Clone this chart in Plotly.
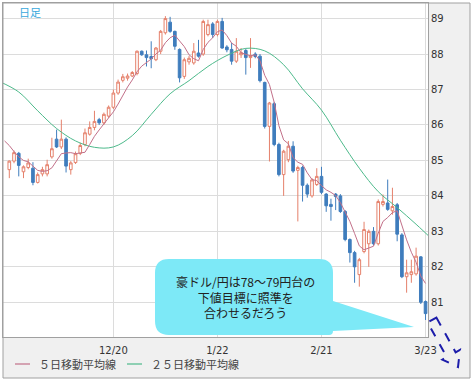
import plotly.graph_objects as go

# ---------------- data ----------------
idx = list(range(89))
tick_idx = [22, 44, 66, 88]
tick_text = ["12/20", "1/22", "2/21", "3/23"]
y_ticks = [81, 82, 83, 84, 85, 86, 87, 88, 89]

opens = [84.74, 84.98, 85.20, 84.68, 84.80, 84.78, 84.38, 84.62, 84.62, 85.10,
         85.60, 85.38, 85.60, 84.74, 84.94, 85.20, 85.45, 85.74, 85.93, 86.15,
         86.06, 86.25, 86.50, 86.90, 87.26, 87.32, 87.38, 87.45, 88.08, 87.98,
         87.93, 87.84, 88.08, 88.60, 88.90, 88.64, 88.13, 87.37, 87.78, 87.75,
         88.03, 88.00, 88.55, 88.85, 88.55, 88.92, 88.20, 88.13, 87.80, 87.98,
         88.10, 87.90, 88.00, 87.94, 87.20, 85.96, 86.60, 85.45, 84.60, 85.02,
         85.40, 84.72, 84.80, 84.30, 84.00, 84.32, 84.55, 84.05, 83.76, 84.05,
         84.00, 83.56, 82.77, 82.40, 81.78, 82.43, 82.65, 83.00, 82.65, 83.76,
         83.80, 83.58, 83.75, 82.90, 81.72, 81.78, 81.80, 82.28, 81.02]
highs = [85.00, 85.28, 85.24, 84.86, 85.05, 84.95, 84.66, 84.82, 85.02, 85.64,
         85.87, 86.15, 85.65, 84.98, 85.25, 85.50, 85.90, 86.10, 86.40, 86.20,
         86.35, 86.55, 87.00, 87.28, 87.44, 87.45, 87.52, 88.10, 88.10, 88.10,
         88.36, 88.20, 88.68, 89.07, 89.05, 88.66, 88.16, 87.90, 87.95, 88.31,
         88.40, 88.97, 88.97, 88.90, 88.97, 89.02, 88.25, 88.31, 88.45, 88.17,
         88.15, 88.45, 88.05, 88.00, 87.22, 86.65, 86.65, 85.50, 85.30, 85.55,
         85.54, 84.85, 84.85, 84.35, 84.50, 84.78, 84.82, 84.08, 83.92, 84.08,
         84.05, 83.60, 82.80, 82.45, 82.25, 83.27, 83.05, 83.12, 83.90, 84.04,
         84.46, 84.23, 83.80, 82.95, 82.20, 82.20, 82.54, 82.30, 81.05]
lows = [84.50, 84.92, 84.55, 84.50, 84.75, 84.30, 84.35, 84.55, 84.55, 85.05,
        85.35, 85.32, 84.66, 84.60, 84.90, 85.15, 85.40, 85.70, 85.85, 86.00,
        86.00, 86.20, 86.45, 86.85, 87.20, 87.25, 87.35, 87.40, 87.95, 87.65,
        87.60, 87.80, 88.00, 88.55, 88.60, 88.12, 87.20, 87.30, 87.70, 87.70,
        87.90, 87.95, 88.50, 88.45, 88.50, 88.15, 88.05, 87.70, 87.75, 87.89,
        87.42, 87.61, 87.88, 87.20, 85.90, 84.97, 85.40, 84.55, 84.00, 84.95,
        84.65, 83.28, 83.84, 83.95, 83.95, 84.28, 84.05, 83.55, 83.30, 83.60,
        83.52, 82.72, 82.12, 81.55, 81.44, 82.38, 82.00, 82.60, 82.60, 83.70,
        83.58, 83.47, 82.72, 81.68, 81.27, 81.55, 81.75, 80.95, 80.50]
closes = [84.98, 85.22, 84.86, 84.82, 84.93, 84.38, 84.60, 84.74, 84.88, 85.33,
          85.38, 85.60, 84.84, 84.93, 85.19, 85.42, 85.78, 85.93, 86.10, 86.06,
          86.30, 86.50, 86.90, 87.21, 87.36, 87.38, 87.48, 88.08, 87.98, 87.90,
          87.87, 88.17, 88.64, 89.00, 88.64, 88.22, 87.33, 87.84, 87.88, 88.08,
          87.94, 88.92, 88.83, 88.55, 88.92, 88.17, 88.12, 87.80, 88.08, 88.04,
          87.90, 87.95, 87.93, 87.25, 85.96, 86.62, 85.45, 84.60, 85.26, 85.40,
          84.70, 84.80, 84.30, 84.05, 84.45, 84.55, 84.10, 83.72, 83.70, 83.98,
          83.56, 82.77, 82.40, 82.00, 82.20, 83.05, 83.00, 82.65, 83.84, 83.84,
          83.62, 83.70, 82.92, 81.72, 81.83, 81.86, 82.30, 81.00, 80.68]

ma5_idx = list(range(-1, 89))
ma5 = [85.55, 85.42, 85.25, 85.10, 85.00, 84.96, 84.84, 84.72, 84.69, 84.71,
       84.79, 84.99, 85.19, 85.21, 85.22, 85.19, 85.20, 85.23, 85.45, 85.68,
       85.86, 86.03, 86.18, 86.37, 86.59, 86.85, 87.07, 87.27, 87.50, 87.66,
       87.76, 87.86, 88.00, 88.11, 88.32, 88.46, 88.53, 88.37, 88.21, 87.98,
       87.87, 87.81, 88.13, 88.33, 88.46, 88.63, 88.68, 88.52, 88.31, 88.22,
       88.04, 87.99, 87.95, 87.98, 87.81, 87.40, 87.14, 86.64, 85.98, 85.58,
       85.47, 85.08, 84.95, 84.89, 84.65, 84.46, 84.43, 84.29, 84.17, 84.10,
       84.01, 83.81, 83.55, 83.28, 82.94, 82.59, 82.48, 82.53, 82.58, 82.95,
       83.28, 83.39, 83.53, 83.58, 83.16, 82.76, 82.41, 82.13, 81.74, 81.53]

ma25_idx = list(range(-2, 91, 4))
ma25 = [87.22, 86.93, 86.40, 85.90, 85.55, 85.37, 85.38, 85.70, 86.30, 86.88,
        87.25, 87.65, 87.96, 88.16, 88.09, 87.70, 87.02, 86.42, 85.57, 84.78,
        84.12, 83.67, 83.20, 82.70]

legend_names = ["５日移動平均線", "２５日移動平均線"]
callout_text = "豪ドル/円は78～79円台の<br>下値目標に照準を<br>合わせるだろう"

# ---------------- geometry helpers (pixel -> paper) ----------------
W, H = 475, 384
ML, MR, MT, MB = 3, 47, 3, 47
PW, PH = W - ML - MR, H - MT - MB


def px(x):
    return (x - ML) / PW


def py(y):
    return (H - MB - y) / PH


def path(points, close=True):
    s = "M " + " L ".join(f"{px(x):.5f},{py(y):.5f}" for x, y in points)
    return s + (" Z" if close else "")


C5 = "#c27089"
C25 = "#4dba8b"

fig = go.Figure()
fig.add_trace(go.Candlestick(
    x=idx, open=opens, high=highs, low=lows, close=closes,
    increasing=dict(line=dict(color="#e5806b", width=1), fillcolor="#ffffff"),
    decreasing=dict(line=dict(color="#3f7dbd", width=1), fillcolor="#3f7dbd"),
    whiskerwidth=0, showlegend=False, hoverinfo="skip"))
fig.add_trace(go.Scatter(x=ma25_idx, y=ma25, mode="lines", name=legend_names[1],
                         line=dict(color=C25, width=1, shape="spline"), showlegend=False))
fig.add_trace(go.Scatter(x=ma5_idx, y=ma5, mode="lines", name=legend_names[0],
                         line=dict(color=C5, width=1), showlegend=False))

tickfont = dict(family="DejaVu Sans", size=10, color="#333333")

shapes = []
# grey panels (right axis and bottom)
shapes.append(dict(type="rect", xref="paper", yref="paper", x0=px(428), x1=px(470),
                   y0=py(378), y1=py(3), fillcolor="#f0f0f0", line=dict(width=0), layer="below"))
shapes.append(dict(type="rect", xref="paper", yref="paper", x0=px(3), x1=px(428),
                   y0=py(378), y1=py(337), fillcolor="#f0f0f0", line=dict(width=0), layer="below"))
# outer frame
shapes.append(dict(type="rect", xref="paper", yref="paper", x0=px(3), x1=px(470),
                   y0=py(378), y1=py(3), line=dict(color="#a0a0a0", width=1)))
# legend samples
shapes.append(dict(type="line", xref="paper", yref="paper", x0=px(15), x1=px(30),
                   y0=py(364), y1=py(364), line=dict(color=C5, width=1.2)))
shapes.append(dict(type="line", xref="paper", yref="paper", x0=px(127), x1=px(142),
                   y0=py(364), y1=py(364), line=dict(color=C25, width=1.2)))

# callout bubble with tail
x0b, x1b, y0b, y1b, r = 155, 333, 259, 335, 14


def q(cx, cy, ex, ey):
    return f" Q {px(cx):.5f},{py(cy):.5f} {px(ex):.5f},{py(ey):.5f}"


def L(x, y):
    return f" L {px(x):.5f},{py(y):.5f}"


bub = f"M {px(x0b + r):.5f},{py(y0b):.5f}"
bub += L(x1b - r, y0b) + q(x1b, y0b, x1b, y0b + r)
bub += L(x1b, 301) + L(414, 327) + L(x1b, 331)
bub += q(x1b, y1b, x1b - 4, y1b)
bub += L(x0b + r, y1b) + q(x0b, y1b, x0b, y1b - r)
bub += L(x0b, y0b + r) + q(x0b, y0b, x0b + r, y0b) + " Z"
shapes.append(dict(type="path", xref="paper", yref="paper", path=bub,
                   fillcolor="#7de9f7", line=dict(width=0), layer="above"))

# dashed arrow (outside plot, bottom-right)
arrow_pts = [(436.4, 317.6), (455.6, 352.3), (460.0, 349.9), (458.0, 367.0),
             (442.4, 359.6), (446.8, 357.2), (427.6, 322.4)]
shapes.append(dict(type="path", xref="paper", yref="paper", path=path(arrow_pts),
                   line=dict(color="#1c1caa", width=2, dash="dash")))

annotations = [
    dict(xref="paper", yref="paper", x=px(17), y=py(12), xanchor="left", yanchor="middle",
         text="日足", showarrow=False,
         font=dict(family="Noto Sans CJK JP", size=11, color="#3aa8dc")),
    dict(xref="paper", yref="paper", x=px(245), y=py(297), xanchor="center", yanchor="middle",
         text=callout_text, showarrow=False, align="center",
         font=dict(family="Noto Sans CJK JP", size=12, color="#222222")),
    dict(xref="paper", yref="paper", x=px(37), y=py(364), xanchor="left", yanchor="middle",
         text=legend_names[0], showarrow=False,
         font=dict(family="Noto Sans CJK JP", size=11, color="#444444")),
    dict(xref="paper", yref="paper", x=px(149), y=py(364), xanchor="left", yanchor="middle",
         text=legend_names[1], showarrow=False,
         font=dict(family="Noto Sans CJK JP", size=11, color="#444444")),
]

fig.update_layout(
    width=W, height=H,
    margin=dict(l=ML, r=MR, t=MT, b=MB, pad=0),
    paper_bgcolor="white", plot_bgcolor="white",
    showlegend=False, boxgap=0.2,
    shapes=shapes, annotations=annotations,
    xaxis=dict(range=[-1.332, 88.52], tickmode="array", tickvals=tick_idx, ticktext=tick_text,
               showgrid=True, gridcolor="#dcdcdc", gridwidth=1, zeroline=False,
               showline=True, mirror=True, linecolor="#a0a0a0", linewidth=1,
               ticks="", ticklabelstandoff=4, tickfont=tickfont,
               rangeslider=dict(visible=False), fixedrange=True),
    yaxis=dict(range=[80.02, 89.44], side="right", tickmode="array", tickvals=y_ticks,
               showgrid=True, gridcolor="#dcdcdc", gridwidth=1, zeroline=False,
               showline=True, mirror=True, linecolor="#a0a0a0", linewidth=1,
               ticks="", tickfont=tickfont, fixedrange=True),
)

fig.write_html("out.html")
